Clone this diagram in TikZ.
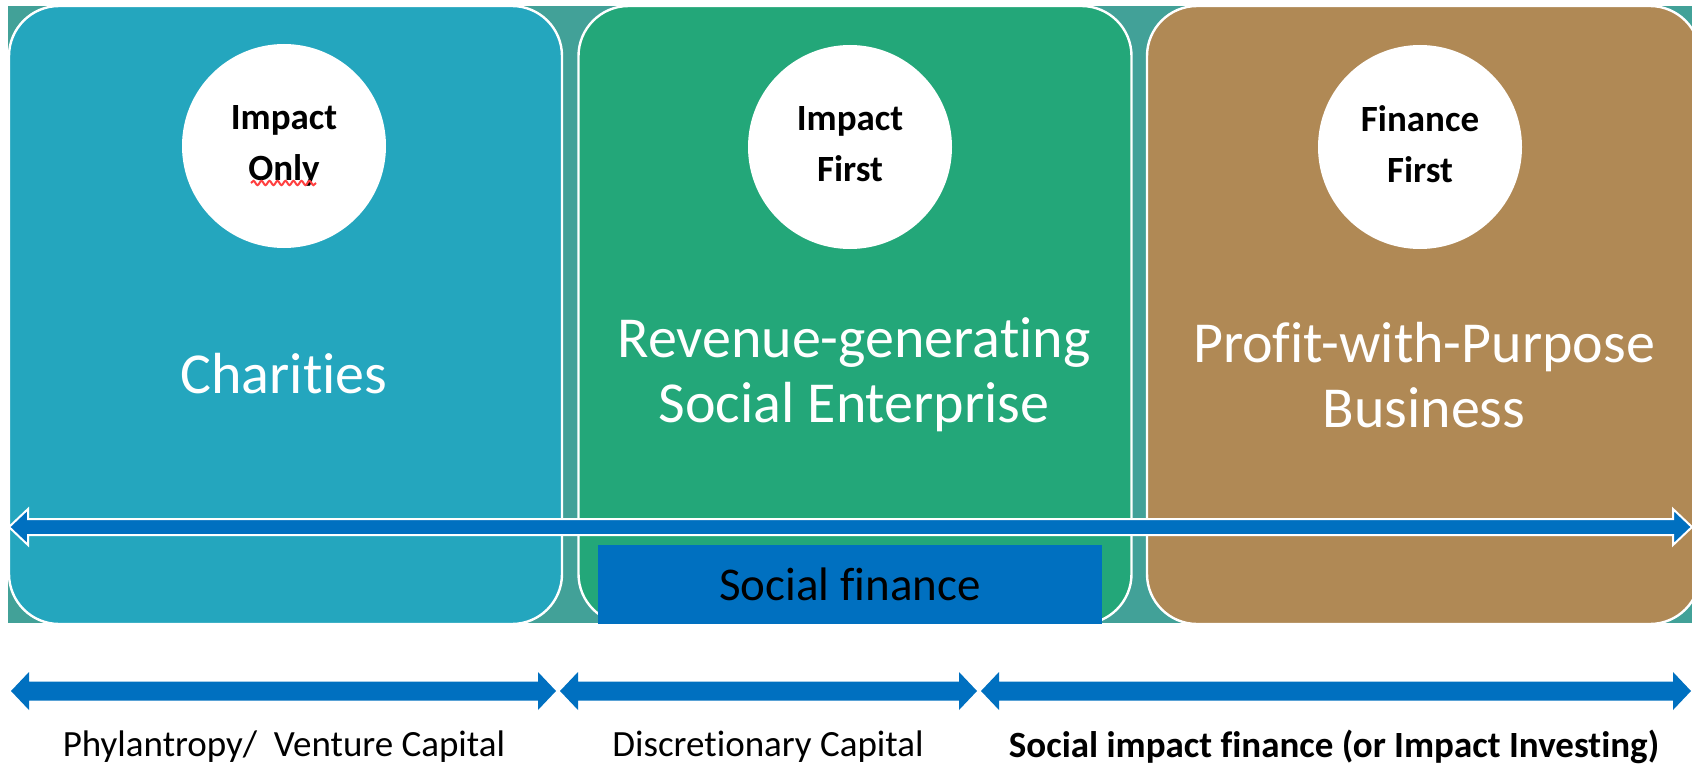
\documentclass[tikz,border=0pt]{standalone}
\usepackage{fontspec}
\setmainfont[RawFeature={-liga;-clig;-calt;-dlig;-rlig}]{Carlito}
\usetikzlibrary{calc,decorations.pathmorphing}
\definecolor{backteal}{RGB}{66,161,152}
\definecolor{charityblue}{RGB}{36,166,190}
\definecolor{enterprisegreen}{RGB}{35,167,121}
\definecolor{businessbrown}{RGB}{176,137,85}
\definecolor{financeblue}{RGB}{0,112,192}
\newcommand{\blockarrow}[6]{%
	\path[#1] (#2) -- ($(#2)+(#6,-#5)$) -- ($(#2)+(#6,-#4)$) -- ($(#3)+(-#6,-#4)$) -- ($(#3)+(-#6,-#5)$) -- (#3)
		-- ($(#3)+(-#6,#5)$) -- ($(#3)+(-#6,#4)$) -- ($(#2)+(#6,#4)$) -- ($(#2)+(#6,#5)$) -- cycle;}

\begin{document}
\begin{tikzpicture} [x=0.5pt,y=-0.5pt,
	panel/.style={draw=white,line width=1.2pt,rounded corners=25pt,minimum width=276.5pt,minimum height=309pt},
	badge/.style={circle,fill=white,minimum size=102pt,inner sep=0pt,align=center,font=\fontsize{18.5}{25.5}\selectfont\bfseries},
	bigtext/.style={text=white,align=center,font=\fontsize{29}{32.5}\selectfont},
	lowtext/.style={font=\fontsize{18.5}{22}\selectfont}]
			\useasboundingbox (0,0) rectangle (1692,765);
			\fill[backteal] (8,6) rectangle (1692,623);
			\node[panel,fill=charityblue] (charities) at (285.5,315) {};
			\node[panel,fill=enterprisegreen] (enterprise) at (855,315) {};
			\node[panel,fill=businessbrown] (business) at (1423.5,315) {};
			\node[badge] (impactonly) at (284,146) {Impact\\Only};
			\node[badge] (impactfirst) at (850,147) {Impact\\First\vphantom{y}};
			\node[badge] (financefirst) at (1420,147) {Finance\\First\vphantom{y}};
			\draw[red!75,line width=1pt,decorate,decoration={snake,amplitude=1.1pt,segment length=4pt}]
				($(impactonly.center)+(-33,37)$) -- ($(impactonly.center)+(32,37)$);
			\node[bigtext] (charitylabel) at (284,374) {Charities};
			\node[bigtext] (enterpriselabel) at (854,375) {Revenue-generating\\Social Enterprise};
			\node[bigtext] (businesslabel) at (1424,375) {Profit-with-Purpose\\Business};
			\coordinate (spanL) at (9,527);
			\coordinate (spanR) at (1692,527);
			\blockarrow{fill=financeblue,draw=white,line width=1pt}{spanL}{spanR}{8}{18}{19}
			\node[fill=financeblue,minimum width=252pt,minimum height=39.5pt,font=\fontsize{23.5}{28}\selectfont] (socialfinance) at (850,584.5) {Social finance};
			\coordinate (philL) at (11,691);
			\coordinate (philR) at (556,691);
			\coordinate (discL) at (560,691);
			\coordinate (discR) at (977,691);
			\coordinate (investL) at (981,691);
			\coordinate (investR) at (1691,691);
			\blockarrow{fill=financeblue}{philL}{philR}{9.5}{19}{18}
			\blockarrow{fill=financeblue}{discL}{discR}{9.5}{19}{18}
			\blockarrow{fill=financeblue}{investL}{investR}{9.5}{19}{18}
			\node[lowtext] (philanthropy) at (284,747) {Phylantropy/\ \ Venture Capital};
			\node[lowtext] (discretionary) at (768,747) {Discretionary Capital};
			\node[lowtext,font=\fontsize{18.5}{22}\selectfont\bfseries] (impactinvesting) at (1334,747) {Social impact finance (or Impact Investing)};
		\end{tikzpicture}
\end{document}
